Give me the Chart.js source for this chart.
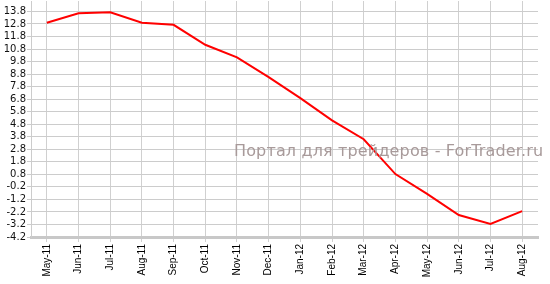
<!DOCTYPE html>
<html><head><meta charset="utf-8">
<script src="https://cdn.jsdelivr.net/npm/chart.js@4/dist/chart.umd.min.js"></script>
<style>
html,body{margin:0;padding:0;background:#fff;overflow:hidden;}
#wrap{position:relative;width:550px;height:284px;overflow:hidden;}
#c{position:absolute;left:0;top:-6px;}
#wm{position:absolute;left:234px;top:141px;font-family:"DejaVu Sans",sans-serif;font-size:16px;letter-spacing:0.15px;color:#a89a9a;white-space:nowrap;}
</style></head>
<body><div id="wrap"><canvas id="c" width="550" height="290"></canvas><div id="wm">Портал для трейдеров - ForTrader.ru</div></div>
<script>
const categories = ["May-11","Jun-11","Jul-11","Aug-11","Sep-11","Oct-11","Nov-11","Dec-11","Jan-12","Feb-12","Mar-12","Apr-12","May-12","Jun-12","Jul-12","Aug-12"];
const values = [12.9,13.65,13.73,12.9,12.73,11.14,10.13,8.55,6.88,5.11,3.6,0.82,-0.76,-2.45,-3.15,-2.14];
const yTicks = [-4.2,-3.2,-2.2,-1.2,-0.2,0.8,1.8,2.8,3.8,4.8,5.8,6.8,7.8,8.8,9.8,10.8,11.8,12.8,13.8];

new Chart(document.getElementById('c'), {
  type: 'line',
  data: { labels: categories, datasets: [{ data: values, borderColor: '#ff0000', borderWidth: 2, pointRadius: 0, tension: 0, fill: false }] },
  options: {
    responsive: false, animation: false,
    layout: { padding: { left: 0, right: 12, top: 0, bottom: 0 } },
    plugins: { legend: { display: false }, tooltip: { enabled: false } },
    scales: {
      x: {
        offset: true,
        grid: { color: '#d0d0d0', lineWidth: 1, offset: false, tickLength: 5, drawTicks: true },
        border: { color: '#c8c8c8', width: 3 },
        ticks: { minRotation: 90, maxRotation: 90, autoSkip: false, padding: 2, color: '#000', font: { family: 'Liberation Sans', size: 10 } },
        afterFit: s => { s.height = 47; }
      },
      y: {
        min: -4.2, max: 14.63,
        afterBuildTicks: s => { s.ticks = yTicks.map(v => ({ value: v })); },
        grid: { color: '#cccccc', lineWidth: 1, tickLength: 4 },
        border: { color: '#cccccc', width: 1 },
        ticks: { autoSkip: false, color: '#111', padding: 1, font: { family: 'DejaVu Sans', size: 10 }, callback: v => v.toFixed(1) },
        afterFit: s => { s.width = 31; }
      }
    }
  }
});
</script></body></html>
